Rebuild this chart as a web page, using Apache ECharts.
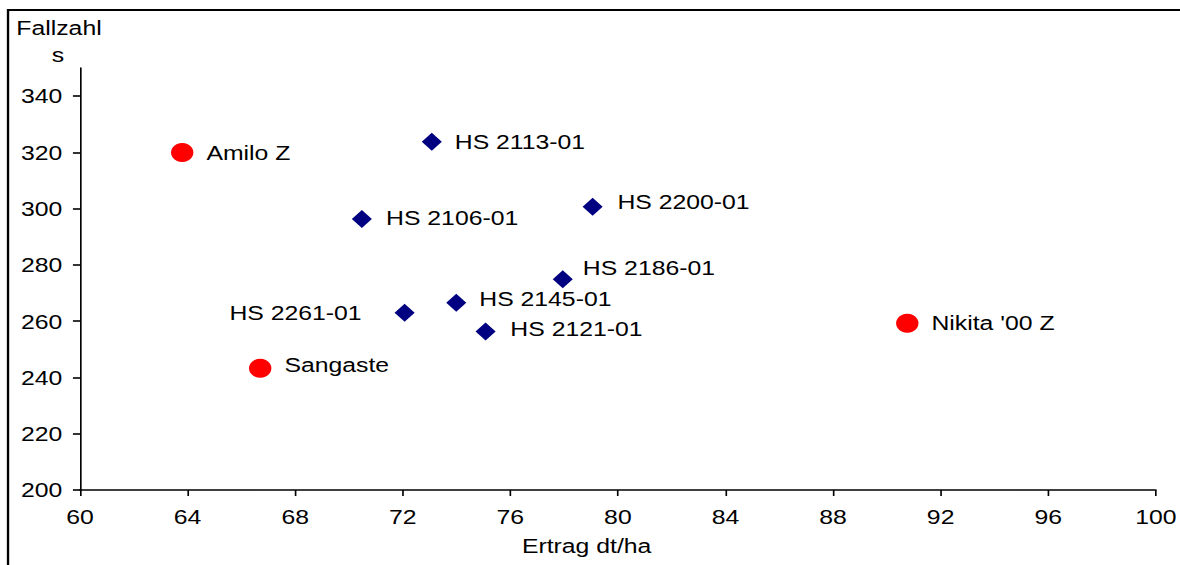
<!DOCTYPE html>
<html>
<head>
<meta charset="utf-8">
<script src="https://cdn.jsdelivr.net/npm/echarts@6/dist/echarts.min.js"></script>
<style>
  html, body { margin: 0; padding: 0; background: #fff; overflow: hidden; }
  /* the reference is a horizontally stretched chart: reproduce the stretch */
  #chart { width: 1000px; height: 565px; transform: scaleX(1.18); transform-origin: 0 0; }
</style>
</head>
<body>
<div id="chart"></div>
<script>
// ---- Data ----
const standardNames = ['Amilo Z', 'Sangaste', "Nikita '00 Z"];
const standardYield = [63.8, 66.7, 90.76];       // Ertrag dt/ha
const standardFalling = [320.0, 243.3, 259.3];   // Fallzahl s

const lineNames = ['HS 2113-01', 'HS 2106-01', 'HS 2200-01', 'HS 2186-01', 'HS 2145-01', 'HS 2261-01', 'HS 2121-01'];
const lineYield = [73.08, 70.48, 79.06, 77.95, 73.99, 72.07, 75.08];
const lineFalling = [323.8, 296.3, 300.7, 274.9, 266.6, 263.0, 256.3];

const xTicks = { min: 60, max: 100, interval: 4 };
const yTickValues = [200, 220, 240, 260, 280, 300, 320, 340];
const yRange = { min: 200, max: 350 };

// ---- Label placement (style, kept separate from data) ----
const labelTweaks = {
  'Sangaste': { offset: [0, -3] },
  'HS 2106-01': { offset: [1, -1] },
  'HS 2200-01': { offset: [1.5, -5] },
  'HS 2186-01': { offset: [-2.5, -12] },
  'HS 2145-01': { offset: [0, -4] },
  'HS 2121-01': { offset: [1.5, -3] },
  'HS 2261-01': { position: 'left', offset: [-17, 0] }
};

const FONT = 'Liberation Sans, Arial, sans-serif';
const FS = 21;

function buildData(names, xs, ys) {
  return names.map((n, i) => {
    const t = labelTweaks[n] || {};
    return {
      name: n,
      value: [xs[i], ys[i]],
      label: { position: t.position || 'right', offset: t.offset || [0, 0] }
    };
  });
}

const chart = echarts.init(document.getElementById('chart'), null, { renderer: 'svg' });

const labelBase = {
  show: true,
  formatter: '{b}',
  color: '#000',
  fontFamily: FONT,
  fontSize: FS,
  distance: 11
};

chart.setOption({
  backgroundColor: '#fff',
  animation: false,
  grid: { left: 67.8, right: 19.5, top: 68, bottom: 75, containLabel: false },
  xAxis: {
    type: 'value',
    min: xTicks.min, max: xTicks.max, interval: xTicks.interval,
    name: 'Ertrag dt/ha',
    nameLocation: 'middle',
    nameGap: 45,
    nameTextStyle: { color: '#000', fontFamily: FONT, fontSize: FS, padding: [0, 53, 0, 0] },
    axisLine: { show: true, onZero: false, lineStyle: { color: '#000', width: 1.6 } },
    axisTick: { show: true, inside: false, length: 6, lineStyle: { color: '#000', width: 1.4 } },
    axisLabel: { color: '#000', fontFamily: FONT, fontSize: FS, margin: 16 },
    splitLine: { show: false }
  },
  yAxis: {
    type: 'value',
    min: yRange.min, max: yRange.max,
    axisLine: { show: true, onZero: false, lineStyle: { color: '#000', width: 1.4 } },
    axisTick: { show: true, inside: false, length: 6, customValues: yTickValues, lineStyle: { color: '#000', width: 1.6 } },
    axisLabel: { color: '#000', fontFamily: FONT, fontSize: FS, margin: 15, customValues: yTickValues },
    splitLine: { show: false }
  },
  graphic: [
    {
      type: 'rect', z: -10, silent: true,
      shape: { x: 6.8, y: 10, width: 1100, height: 620 },
      style: { fill: 'none', stroke: '#000', lineWidth: 2 }
    },
    {
      type: 'text', x: 50, y: 28,
      style: { text: 'Fallzahl', fill: '#000', font: FS + 'px ' + FONT, textAlign: 'center', textVerticalAlign: 'middle' }
    },
    {
      type: 'text', x: 49, y: 55,
      style: { text: 's', fill: '#000', font: FS + 'px ' + FONT, textAlign: 'center', textVerticalAlign: 'middle' }
    }
  ],
  series: [
    {
      name: 'Sorten',
      type: 'scatter',
      symbol: 'circle',
      symbolSize: 19,
      itemStyle: { color: '#ff0000', opacity: 1 },
      label: labelBase,
      data: buildData(standardNames, standardYield, standardFalling)
    },
    {
      name: 'Stämme',
      type: 'scatter',
      symbol: 'diamond',
      symbolSize: [17, 18],
      itemStyle: { color: '#000080', opacity: 1 },
      label: labelBase,
      data: buildData(lineNames, lineYield, lineFalling)
    }
  ]
});
</script>
</body>
</html>
